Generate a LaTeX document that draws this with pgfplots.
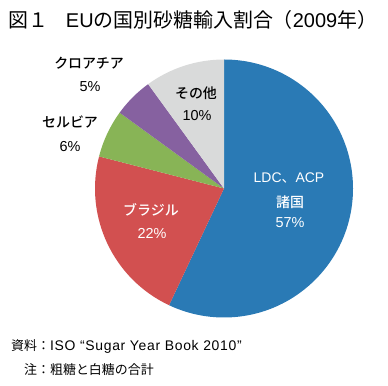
\documentclass[border=0pt]{standalone}
\usepackage{pgfplots}
\usepackage{pgfplotstable}
\pgfplotsset{compat=1.18}
\usepackage{fontspec}
\setmainfont{Noto Sans CJK JP}
\newfontfamily\jpm{Noto Sans CJK JP Medium}
\newfontfamily\lat{Liberation Sans}
\newfontfamily\latw{Liberation Sans}[LetterSpace=5]
\definecolor{cblue}{HTML}{2A7AB5}
\definecolor{cred}{HTML}{D25050}
\definecolor{cgreen}{HTML}{88B456}
\definecolor{cpurple}{HTML}{8661A0}
\definecolor{cgray}{HTML}{D9DADA}
\pgfplotstableread[col sep=comma]{
label,value,color
LDC,57,cblue
Brazil,22,cred
Serbia,6,cgreen
Croatia,5,cpurple
Other,10,cgray
}\piedata
\begin{document}
\begin{tikzpicture}
\begin{axis}[hide axis, scale only axis, width=388bp, height=386bp,
  xmin=0, xmax=388, ymin=0, ymax=386, clip=false]
\gdef\startang{90}
\pgfplotsforeachungrouped \i in {0,...,4}{%
  \pgfplotstablegetelem{\i}{value}\of\piedata
  \let\v=\pgfplotsretval
  \pgfplotstablegetelem{\i}{color}\of\piedata
  \let\col=\pgfplotsretval
  \pgfmathsetmacro\endang{\startang-3.6*\v}%
  \pgfmathsetmacro\sx{224+129*cos(\startang)}%
  \pgfmathsetmacro\sy{197.5+129*sin(\startang)}%
  \edef\temp{\noexpand\fill[\col] (axis cs:224,197.5) -- (axis cs:\sx,\sy) arc[start angle=\startang, end angle=\endang, radius=129] -- cycle;}%
  \temp
  \global\let\startang\endang
}
\node[anchor=west, inner sep=0pt, font=\fontsize{20}{20}\selectfont] at (axis cs:8,366) {図１\hspace{0.9em}{\lat EU}の国別砂糖輸入割合（{\lat 2009}年）};
\node[font=\jpm\fontsize{14}{14}\selectfont] at (axis cs:89,323) {クロアチア};
\node[font=\lat\fontsize{14.5}{14}\selectfont] at (axis cs:90,299) {5\%};
\node[font=\jpm\fontsize{14}{14}\selectfont] at (axis cs:70,264) {セルビア};
\node[font=\lat\fontsize{14.5}{14}\selectfont] at (axis cs:70,239) {6\%};
\node[font=\jpm\fontsize{14}{14}\selectfont] at (axis cs:196,293) {その他};
\node[font=\lat\fontsize{14.5}{14}\selectfont] at (axis cs:197,270) {10\%};
\node[text=white, font=\jpm\fontsize{14}{14}\selectfont] at (axis cs:151,176) {ブラジル};
\node[text=white, font=\lat\fontsize{14.5}{14}\selectfont] at (axis cs:152,152) {22\%};
\node[text=white, font=\fontsize{14}{14}\selectfont] at (axis cs:289,208) {{\lat LDC}、{\lat ACP}};
\node[text=white, font=\jpm\fontsize{14}{14}\selectfont] at (axis cs:290,184) {諸国};
\node[text=white, font=\lat\fontsize{14.5}{14}\selectfont] at (axis cs:290,163) {57\%};
\node[anchor=west, inner sep=0pt, font=\fontsize{13}{13}\selectfont] at (axis cs:11,39) {資料：{\latw\fontsize{14}{14}\selectfont ISO “Sugar Year Book 2010”}};
\node[anchor=west, inner sep=0pt, font=\fontsize{13}{13}\selectfont] at (axis cs:24,16) {注：粗糖と白糖の合計};
\end{axis}
\pgfresetboundingbox
\useasboundingbox (0,0) rectangle (388bp,386bp);
\end{tikzpicture}
\end{document}
